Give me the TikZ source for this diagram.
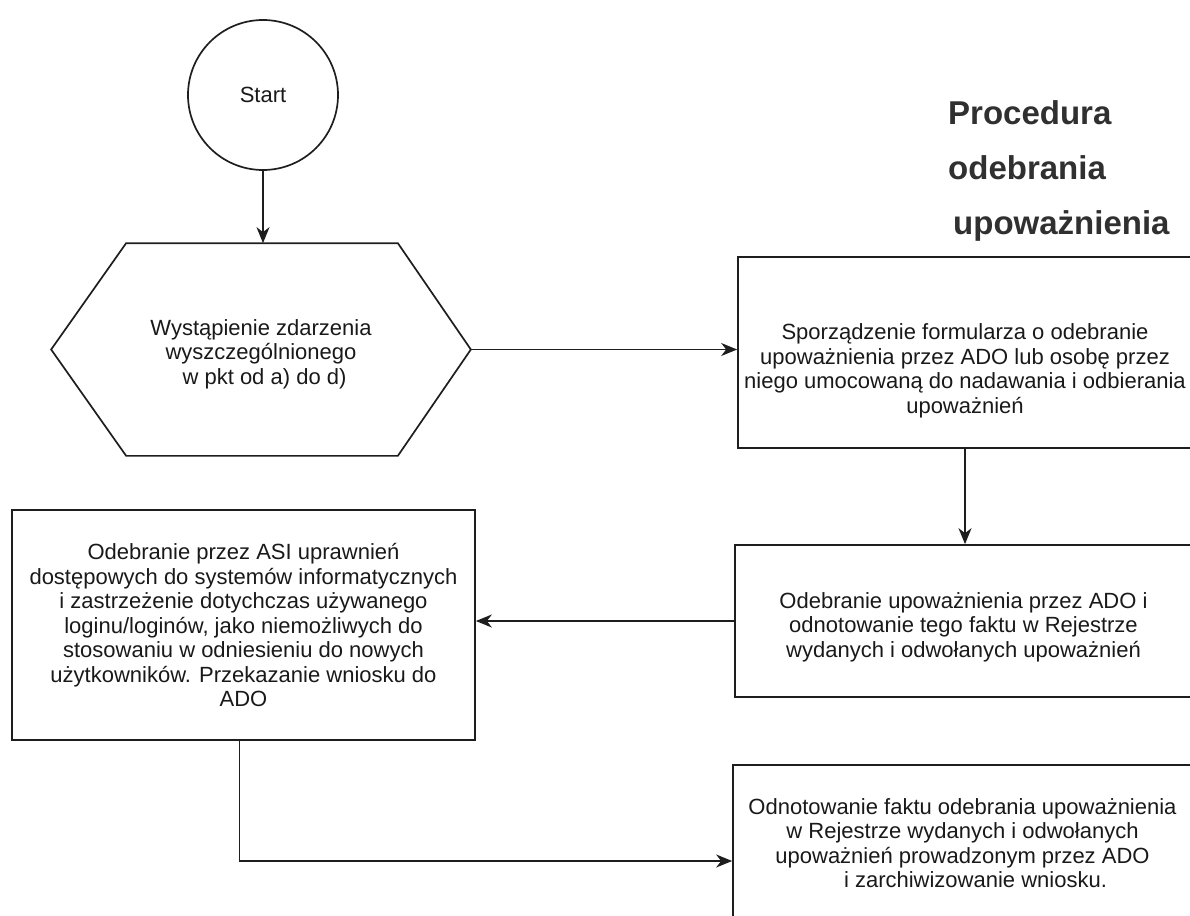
\documentclass[tikz,border=0pt]{standalone}
\usepackage{fontspec}
\setmainfont{Liberation Sans}
\usetikzlibrary{arrows.meta, positioning}
\definecolor{linegray}{RGB}{30,30,30}
\definecolor{textgray}{RGB}{25,25,25}
\tikzset{
  base/.style={
    draw=linegray, line width=1.7pt, inner sep=0pt,
    text=textgray, align=center, font=\fontsize{22}{24.5}\selectfont
  },
  startnode/.style={base, circle, minimum size=150pt},
  eventnode/.style={base, draw=none, rectangle,
    minimum width=418pt, minimum height=211pt},
  hexline/.style={draw=linegray, line width=1.7pt, line join=miter},
  box/.style={base, rectangle},
  titlenode/.style={inner sep=0pt, align=left, text=textgray!90!white,
    font=\fontsize{33}{55}\selectfont\bfseries},
  arr/.style={-{Stealth[length=16pt, width=13pt, inset=5pt]},
    line width=1.6pt, draw=linegray}
}
\begin{document}
\begin{tikzpicture}[x=1pt, y=-1pt]
  \useasboundingbox (0,0) rectangle (1190,915);

  \node[titlenode, anchor=north west] (title) at (948,100)
        {Procedura\\odebrania\\\hspace*{5pt}upoważnienia};

  \node[startnode] (start) at (263,95) {Start};
  \node[eventnode, text height=74pt] (event) at (261,349.5)
        {Wystąpienie zdarzenia\\wyszczególnionego\\\hspace*{7pt}w pkt od a) do d)};
  % six-sided outline round the event node
  \draw[hexline] (event.west) -- ([xshift=75pt]event.north west)
        -- ([xshift=-73pt]event.north east) -- (event.east)
        -- ([xshift=-73pt]event.south east) -- ([xshift=75pt]event.south west)
        -- cycle;
  \node[box, minimum width=454pt, minimum height=191pt, text height=126pt] (form) at (965,352.5)
        {Sporządzenie formularza o odebranie\\upoważnienia przez ADO lub osobę przez\\niego umocowaną do nadawania i odbierania\\upoważnień};
  \node[box, minimum width=457pt, minimum height=152pt, text height=77pt] (rejestr) at (963.5,621)
        {Odebranie upoważnienia przez ADO i\\odnotowanie tego faktu w Rejestrze\\wydanych i odwołanych upoważnień};
  \node[box, minimum width=463pt, minimum height=230pt] (asi) at (243.5,625)
        {Odebranie przez ASI uprawnień\\dostępowych do systemów informatycznych\\i zastrzeżenie dotychczas używanego\\loginu/loginów, jako niemożliwych do\\stosowaniu w odniesieniu do nowych\\użytkowników. Przekazanie wniosku do\\ADO};
  \node[box, minimum width=459pt, minimum height=192pt, text depth=36pt] (archiwum) at (962.5,861)
        {Odnotowanie faktu odebrania upoważnienia\\w Rejestrze wydanych i odwołanych\\upoważnień prowadzonym przez ADO\\\hspace*{26pt}i zarchiwizowanie wniosku.};

  \draw[arr] (start.south) -- (start.south |- event.north);
  \draw[arr] (event.east) -- (event.east -| form.west);
  \draw[arr] (form.south) -- (form.south |- rejestr.north);
  \draw[arr] (rejestr.west) -- (rejestr.west -| asi.east);
  \draw[arr] ([xshift=-4pt]asi.south) |- (archiwum.west);
\end{tikzpicture}
\end{document}
